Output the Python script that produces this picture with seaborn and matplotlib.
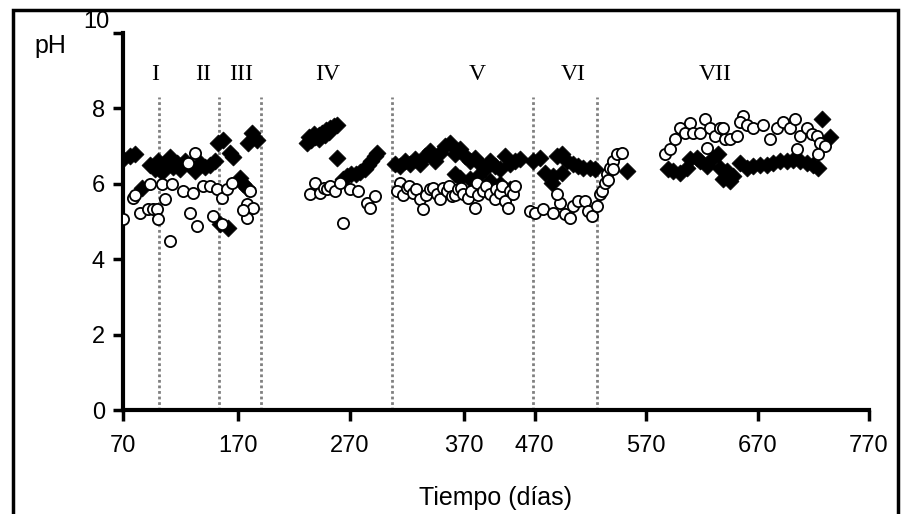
import numpy as np
import matplotlib.pyplot as plt
from matplotlib.patches import Rectangle
import seaborn as sns

sns.set_style("ticks", {'axes.edgecolor': 'black', 'text.color': 'black',
                        'axes.labelcolor': 'black', 'xtick.color': 'black',
                        'ytick.color': 'black'})
plt.rcParams['font.family'] = ['Liberation Sans', 'DejaVu Sans']

# Serie 1: rombos negros (dia, pH)
dias_rombo = [70.0, 76.3, 80.8, 87.0, 94.2, 98.7, 101.4, 105.0, 107.7, 112.2, 114.9,
              118.4, 121.1, 125.6, 130.1, 134.6, 139.1, 143.6, 148.0, 152.5,
              155.2, 159.7, 166.0, 168.7, 175.0, 177.6, 181.2, 182.1, 185.7, 190.2, 164.2, 157.0,
              235.0, 238.5, 242.0, 245.5, 249.0, 252.5, 256.0, 259.5, 262.0, 262.0,
              237.0, 241.0, 246.0, 251.0, 255.0,
              267.3, 271.0, 275.0, 279.0, 283.0, 287.0, 290.0, 293.0, 296.0, 297.8,
              314.0, 318.5, 323.0, 327.4, 331.9, 336.4, 340.9, 345.4, 349.9, 354.3, 358.8,
              363.3, 367.8, 372.3, 376.8, 381.3, 385.7, 390.2, 394.7, 399.2, 403.7, 408.2,
              412.7, 417.1, 421.6, 426.1,
              367.8, 372.3, 381.3, 388.4, 399.2, 408.2, 417.1,
              437.8, 444.0, 448.5, 455.7, 459.3, 463.8, 468.3, 473.7, 478.1, 482.6, 488.9,
              493.4, 454.8, 463.8, 522.1,
              558.9, 563.4, 569.6, 575.9, 578.6, 584.9, 587.6, 593.8, 599.2, 603.7, 605.5,
              608.2, 611.8, 614.5, 617.2, 623.4, 629.7, 635.1, 641.4, 647.7, 653.1, 659.3,
              665.6, 671.0, 677.3, 683.5, 688.9, 693.4, 697.0, 704.1]
ph_rombo = [6.67, 6.75, 6.8, 5.9, 6.5, 6.4, 6.6, 6.3, 6.55, 6.7, 6.45,
            6.55, 6.4, 6.6, 6.5, 6.35, 6.55, 6.45, 6.5, 6.6,
            7.07, 7.15, 6.83, 6.7, 6.16, 6.0, 5.89, 7.07, 7.36, 7.15, 4.83, 4.93,
            7.09, 7.17, 7.25, 7.3, 7.36, 7.42, 7.47, 7.52, 7.55, 6.69,
            7.25, 7.33, 7.2, 7.3, 7.38,
            6.13, 6.2, 6.25, 6.27, 6.3, 6.4, 6.5, 6.6, 6.75, 6.83,
            6.53, 6.48, 6.61, 6.53, 6.67, 6.53, 6.75, 6.88, 6.61, 6.83, 7.01,
            7.07, 6.8, 6.93, 6.75, 6.61, 6.69, 6.53, 6.4, 6.61, 6.48, 6.4,
            6.75, 6.53, 6.61, 6.67,
            6.27, 6.16, 6.13, 6.21, 6.08, 6.0, 5.87,
            6.61, 6.69, 6.29, 6.21, 6.75, 6.8, 6.61, 6.53, 6.48, 6.43, 6.43,
            6.4, 6.03, 6.29, 6.35,
            6.4, 6.35, 6.29, 6.43, 6.67, 6.69, 6.61, 6.48, 6.69, 6.8, 6.43,
            6.13, 6.35, 6.08, 6.2, 6.56, 6.43, 6.48, 6.5, 6.5, 6.56, 6.6,
            6.6, 6.62, 6.6, 6.56, 6.5, 6.43, 7.73, 7.25]

# Serie 2: circulos blancos (dia, pH)
dias_circulo = [70.0, 79.0, 80.8, 85.2, 92.4, 96.9, 100.5, 101.4, 107.7, 105.0, 114.0, 94.2,
                112.2, 134.6, 128.3, 123.8, 132.8, 130.1, 136.4, 141.8, 148.0, 154.3, 150.7,
                158.8, 158.8, 163.3, 167.8, 183.9, 181.2, 186.6, 181.2, 177.6,
                242.2, 237.7, 246.7, 250.0, 253.0, 256.0, 260.2, 264.7, 273.6, 280.8, 288.9,
                296.0, 291.6, 267.3,
                318.5, 315.8, 321.0, 324.7, 327.0, 330.1, 333.0, 336.4, 339.1, 342.0, 345.4,
                348.0, 351.7, 354.3, 357.0, 360.6, 363.0, 365.1, 368.0, 370.5, 373.0, 375.0,
                379.5, 382.0, 385.7, 387.5, 389.0, 392.9, 396.0, 399.2, 403.7, 405.0, 408.2,
                410.0, 412.7, 415.3, 417.0, 419.8, 422.0,
                435.1, 439.6, 446.7, 455.7, 462.0, 466.5, 471.0, 473.7, 478.1, 484.4, 487.1,
                490.7, 495.2, 459.3, 498.0, 499.7, 502.4, 504.1, 505.0, 506.8, 509.5, 510.0,
                513.1, 517.6,
                556.2, 560.7, 565.1, 569.6, 574.1, 578.6, 581.3, 587.6, 592.1, 596.5, 601.0,
                605.5, 593.8, 610.0, 608.2, 614.5, 620.8, 626.1, 623.4, 629.7, 635.1, 644.1,
                650.4, 656.6, 662.0, 668.3, 672.8, 677.3, 683.5, 688.0, 692.5, 695.2, 699.7,
                674.6, 693.4]
ph_circulo = [5.07, 5.63, 5.7, 5.23, 5.33, 5.33, 5.33, 5.07, 5.6, 6.0, 6.0, 6.0,
              4.48, 6.83, 6.56, 5.81, 5.76, 5.23, 4.88, 5.95, 5.95, 5.87, 5.15,
              4.93, 5.63, 5.87, 6.03, 5.81, 5.47, 5.36, 5.09, 5.3,
              6.03, 5.73, 5.76, 5.9, 5.87, 5.95, 5.81, 6.03, 5.87, 5.81, 5.49,
              5.68, 5.36, 4.96,
              6.03, 5.81, 5.7, 5.89, 5.95, 5.76, 5.85, 5.6, 5.33, 5.7, 5.87,
              5.9, 5.73, 5.6, 5.9, 5.81, 5.95, 5.68, 5.7, 5.87, 5.9, 5.73,
              5.63, 5.8, 5.36, 6.03, 5.7, 5.81, 5.95, 5.73, 5.6, 5.85, 5.76,
              5.95, 5.55, 5.36, 5.8, 5.73, 5.95,
              5.28, 5.23, 5.33, 5.23, 5.49, 5.2, 5.09, 5.41, 5.55, 5.55, 5.28,
              5.15, 5.41, 5.73, 5.73, 5.81, 6.03, 6.27, 6.1, 6.43, 6.61, 6.4,
              6.8, 6.83,
              6.8, 6.93, 7.2, 7.47, 7.36, 7.6, 7.36, 7.36, 7.73, 7.47, 7.28,
              7.47, 6.96, 7.2, 7.47, 7.2, 7.28, 7.81, 7.63, 7.55, 7.49, 7.55,
              7.2, 7.47, 7.63, 7.47, 7.73, 7.28, 7.49, 7.33, 7.28, 7.07, 7.01,
              6.93, 6.8]

# Fases del proceso
fases = ['I', 'II', 'III', 'IV', 'V', 'VI', 'VII']
fases_x = [98.7, 141.8, 175.8, 253.9, 387.5, 473.7, 601.9]
limites_fase = [102.3, 156.1, 193.8, 311.3, 437.8, 495.2]

# Eje x con etiquetas de Excel
ticks_x = [70, 173.2, 273.6, 375.8, 439.5, 539.1, 639.6, 739.2]
etiquetas_x = ['70', '170', '270', '370', '470', '570', '670', '770']

fig = plt.figure(figsize=(9.04, 5.14), dpi=100)
ax = fig.add_axes([0.136, 0.2023, 0.825, 0.7335])

for xl in limites_fase:
    ax.plot([xl, xl], [0, 8.3], color='#808080', linestyle=(0, (1, 1)), linewidth=2)

sns.scatterplot(x=dias_rombo, y=ph_rombo, ax=ax, marker='D', s=75, color='black',
                edgecolor='black', linewidth=0.5, zorder=3)
sns.scatterplot(x=dias_circulo, y=ph_circulo, ax=ax, marker='o', s=65, facecolor='white',
                edgecolor='black', linewidth=1.3, zorder=4)

for nombre, xf in zip(fases, fases_x):
    ax.text(xf, 8.89, nombre, ha='center', va='center', fontsize=17,
            family=['Liberation Serif', 'DejaVu Serif'])

ax.set_xlim(70, 739.2)
ax.set_ylim(0, 10)
ax.set_xticks(ticks_x)
ax.set_xticklabels(etiquetas_x, fontsize=17)
ax.set_yticks([0, 2, 4, 6, 8, 10])
ax.set_yticklabels(['0', '2', '4', '6', '8', ''], fontsize=17)
# el "10" va un poco mas arriba que su marca
ax.text(-0.018, 1.03, '10', transform=ax.transAxes, ha='right', va='center', fontsize=17)

ax.tick_params(axis='x', direction='out', length=8, width=2.5, pad=10)
ax.tick_params(axis='y', direction='out', length=7, width=2.5, pad=6)
sns.despine(ax=ax)
ax.spines['left'].set_linewidth(3)
ax.spines['bottom'].set_linewidth(3)

ax.set_xlabel('Tiempo (días)', fontsize=18, labelpad=21)
ax.set_ylabel('pH', fontsize=18, rotation=0)
ax.yaxis.set_label_coords(-0.097, 0.935)

fig.patches.append(Rectangle((13 / 904, -0.02), 885 / 904, (514 - 10) / 514 + 0.02,
                             transform=fig.transFigure, fill=False, edgecolor='black',
                             linewidth=2.5, clip_on=False))

plt.savefig('out.png', dpi=100)
